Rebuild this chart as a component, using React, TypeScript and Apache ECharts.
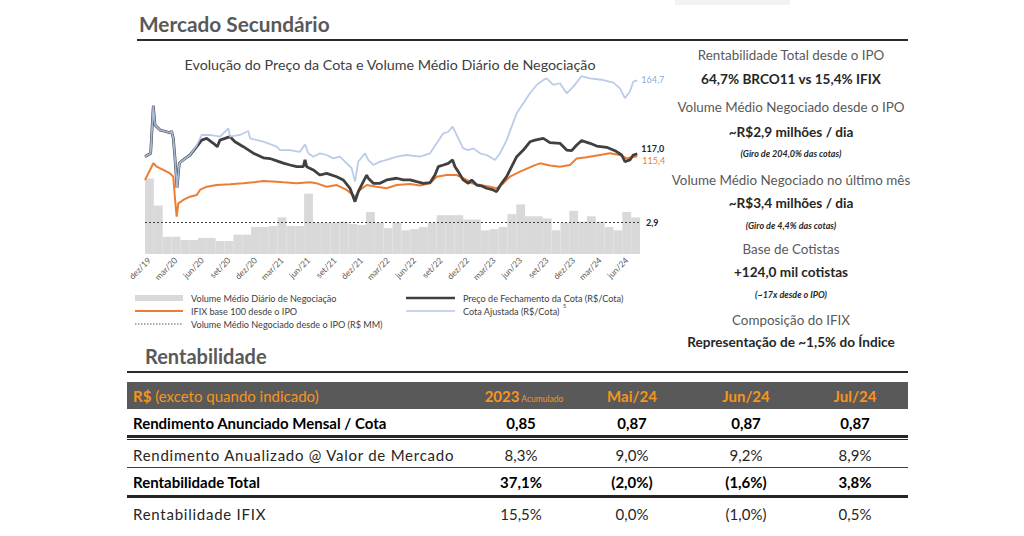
import React, { useEffect, useRef } from 'react';
import * as echarts from 'echarts';

const FONT = "Lato, 'Noto Sans', sans-serif";

// ---------- chart data ----------
const monthLabels = [
  'dez/19', 'jan/20', 'fev/20', 'mar/20', 'abr/20', 'mai/20', 'jun/20', 'jul/20', 'ago/20', 'set/20', 'out/20', 'nov/20',
  'dez/20', 'jan/21', 'fev/21', 'mar/21', 'abr/21', 'mai/21', 'jun/21', 'jul/21', 'ago/21', 'set/21', 'out/21', 'nov/21',
  'dez/21', 'jan/22', 'fev/22', 'mar/22', 'abr/22', 'mai/22', 'jun/22', 'jul/22', 'ago/22', 'set/22', 'out/22', 'nov/22',
  'dez/22', 'jan/23', 'fev/23', 'mar/23', 'abr/23', 'mai/23', 'jun/23', 'jul/23', 'ago/23', 'set/23', 'out/23', 'nov/23',
  'dez/23', 'jan/24', 'fev/24', 'mar/24', 'abr/24', 'mai/24', 'jun/24', 'jul/24',
];

// Volume Médio Diário de Negociação (R$ MM), monthly
const volumeMonthly = [
  7.0, 4.5, 1.6, 1.6, 1.3, 1.3, 1.5, 1.5, 1.2, 1.2, 1.8, 1.8,
  2.5, 2.5, 2.6, 3.4, 2.6, 2.6, 5.6, 2.9, 2.9, 2.9, 3.0, 2.8,
  2.7, 3.9, 2.9, 2.4, 2.9, 2.2, 2.3, 2.5, 2.9, 3.6, 3.6, 3.6,
  3.2, 3.2, 2.2, 2.3, 2.5, 3.7, 4.6, 3.5, 3.5, 3.3, 2.2, 2.9,
  4.0, 3.0, 3.5, 3.0, 2.5, 2.2, 3.9, 3.4,
];
const volumeAvgSinceIPO = 2.9;

// [months since dez/19, value]
const priceClose: [number, number][] = [
  [0, 115.2], [0.64, 117.4], [0.94, 148.3], [1.13, 135.8], [1.7, 132.5], [2.45, 131.4], [2.83, 130.6], [3.0, 131.9],
  [3.2, 127.3], [3.39, 114.4], [3.62, 94.9], [3.88, 111.1], [4.33, 113.1], [5.09, 116.3], [5.85, 121.7], [6.41, 126.0],
  [6.98, 127.1], [7.73, 123.9], [8.18, 121.7], [8.48, 126.0], [9.62, 128.2], [10.18, 124.9], [11.12, 121.7], [12.25, 117.5],
  [13.38, 114.5], [14.14, 114.0], [14.9, 112.5], [15.65, 111.0], [16.4, 109.8], [17.16, 108.7], [17.91, 108.7], [18.1, 113.1],
  [18.29, 108.7], [19.04, 106.6], [19.8, 103.3], [20.55, 104.4], [21.69, 102.2], [22.43, 100.1], [23.19, 94.7], [23.76, 86.0],
  [24.13, 92.5], [24.7, 99.0], [25.08, 103.3], [25.26, 101.2], [25.83, 97.9], [26.58, 97.9], [27.34, 100.1], [28.47, 101.2],
  [29.22, 100.1], [29.98, 100.1], [30.73, 99.0], [31.49, 97.9], [32.24, 98.3], [32.8, 103.3], [33.18, 108.7], [33.75, 109.8],
  [34.31, 110.9], [34.8, 113.1], [35.07, 108.7], [35.44, 105.5], [36.0, 100.1], [36.57, 97.9], [36.96, 100.1], [37.52, 96.8],
  [38.09, 96.2], [38.65, 94.7], [39.4, 93.6], [39.78, 92.5], [40.35, 97.9], [40.91, 102.2], [41.48, 108.7], [42.05, 115.2],
  [42.8, 119.5], [43.55, 124.9], [44.12, 126.0], [45.06, 127.1], [45.81, 124.3], [46.95, 123.9], [47.7, 119.5], [48.27, 119.1],
  [48.84, 122.8], [49.4, 125.6], [50.34, 123.9], [51.1, 122.1], [52.23, 121.3], [53.17, 119.1], [53.93, 116.3], [54.3, 112.0],
  [54.86, 113.1], [55.24, 116.3], [55.69, 117.0],
];

const ifixBase100: [number, number][] = [
  [0, 100.0], [0.57, 106.6], [0.94, 110.9], [1.32, 108.7], [2.07, 106.6], [2.83, 104.4], [3.2, 102.2], [3.39, 88.2],
  [3.58, 76.2], [3.77, 84.9], [4.33, 87.1], [5.09, 89.2], [5.85, 90.3], [6.22, 93.6], [6.98, 95.7], [8.11, 96.8],
  [9.62, 97.3], [11.12, 97.9], [12.25, 98.6], [13.38, 99.4], [14.9, 99.0], [15.65, 98.6], [17.16, 97.9], [18.67, 98.6],
  [19.42, 97.9], [20.55, 95.7], [21.69, 96.8], [22.82, 93.6], [23.76, 89.2], [24.32, 93.6], [25.08, 96.8], [26.2, 95.7],
  [27.34, 94.7], [28.47, 96.8], [29.98, 97.5], [31.1, 96.5], [32.24, 97.9], [33.0, 102.2], [34.13, 103.3], [35.26, 103.3],
  [36.39, 100.1], [36.96, 97.9], [37.9, 96.8], [39.03, 95.7], [39.78, 94.7], [40.53, 97.9], [41.29, 102.2], [42.42, 105.5],
  [43.93, 109.2], [44.68, 110.9], [45.81, 109.5], [46.95, 108.7], [48.08, 109.8], [48.84, 114.1], [49.97, 114.8], [51.47, 116.3],
  [52.6, 117.4], [53.73, 116.3], [54.49, 114.1], [55.24, 115.2], [55.69, 115.4],
];

const adjustedPrice: [number, number][] = [
  [0, 115.2], [0.64, 117.4], [0.94, 148.3], [1.13, 135.8], [1.7, 132.5], [2.45, 131.4], [2.83, 130.6], [3.0, 131.9],
  [3.2, 127.3], [3.39, 114.4], [3.62, 94.9], [3.88, 111.1], [4.33, 113.1], [5.09, 116.3], [5.85, 122.5], [6.41, 129.3],
  [7.35, 129.3], [8.48, 128.2], [9.43, 133.6], [9.62, 128.2], [10.75, 129.3], [11.69, 131.9], [11.88, 127.1], [13.38, 125.0],
  [14.9, 121.7], [15.27, 119.5], [16.4, 119.5], [17.53, 118.4], [18.1, 123.2], [18.48, 117.4], [19.04, 115.2], [19.8, 117.4],
  [20.55, 116.3], [21.3, 114.1], [22.06, 115.2], [22.62, 112.0], [23.38, 107.7], [23.76, 99.0], [24.13, 112.0], [24.89, 117.4],
  [25.26, 113.1], [25.83, 109.8], [26.58, 112.0], [27.34, 113.1], [28.47, 115.2], [29.6, 116.3], [31.1, 115.2], [32.24, 117.4],
  [33.0, 123.9], [33.75, 130.4], [34.31, 131.4], [34.8, 134.7], [35.26, 129.3], [36.0, 120.6], [36.57, 119.5], [37.14, 120.6],
  [37.9, 117.4], [38.65, 116.3], [39.59, 113.1], [40.16, 117.4], [40.91, 126.0], [41.48, 134.7], [42.05, 143.4], [42.8, 149.9],
  [43.55, 156.4], [44.31, 161.8], [45.06, 165.0], [45.44, 166.1], [46.19, 161.8], [46.95, 162.9], [47.7, 156.4], [48.46, 160.7],
  [49.4, 167.6], [50.34, 166.1], [51.85, 165.0], [52.98, 163.3], [53.73, 159.6], [54.3, 153.2], [54.86, 157.5], [55.24, 164.0],
  [55.69, 164.7],
];

const legendLeft = ['Volume Médio Diário de Negociação', 'IFIX base 100 desde o IPO', 'Volume Médio Negociado desde o IPO (R$ MM)'];
const legendRight = ['Preço de Fechamento da Cota (R$/Cota)', 'Cota Ajustada (R$/Cota)'];

// ---------- side panel ----------
const sidePanel: { text: string; kind: 'label' | 'value' | 'note' }[] = [
  { text: 'Rentabilidade Total desde o IPO', kind: 'label' },
  { text: '64,7% BRCO11 vs 15,4% IFIX', kind: 'value' },
  { text: 'Volume Médio Negociado desde o IPO', kind: 'label' },
  { text: '~R$2,9 milhões / dia', kind: 'value' },
  { text: '(Giro de 204,0% das cotas)', kind: 'note' },
  { text: 'Volume Médio Negociado no último mês', kind: 'label' },
  { text: '~R$3,4 milhões / dia', kind: 'value' },
  { text: '(Giro de 4,4% das cotas)', kind: 'note' },
  { text: 'Base de Cotistas', kind: 'label' },
  { text: '+124,0 mil cotistas', kind: 'value' },
  { text: '(~17x desde o IPO)', kind: 'note' },
  { text: 'Composição do IFIX', kind: 'label' },
  { text: 'Representação de ~1,5% do Índice', kind: 'value' },
];
const sidePanelY = [56, 80, 108, 133, 153, 181, 204, 225, 250, 273, 294, 321, 343];

// ---------- table ----------
const tableColumns = ['2023', 'Mai/24', 'Jun/24', 'Jul/24'];
const rowLabels = [
  'Rendimento Anunciado Mensal / Cota',
  'Rendimento Anualizado @ Valor de Mercado',
  'Rentabilidade Total',
  'Rentabilidade IFIX',
];
const rendimentoMensal = ['0,85', '0,87', '0,87', '0,87'];
const rendimentoAnualizado = ['8,3%', '9,0%', '9,2%', '8,9%'];
const rentabilidadeTotal = ['37,1%', '(2,0%)', '(1,6%)', '3,8%'];
const rentabilidadeIfix = ['15,5%', '0,0%', '(1,0%)', '0,5%'];
const tableRows = [rendimentoMensal, rendimentoAnualizado, rentabilidadeTotal, rentabilidadeIfix];
const rowBold = [true, false, true, false];

const fmt = (v: number) => v.toFixed(1).replace('.', ',');

const Txt = (p: any) => {
  const tx = p.align === 'center' ? '-50%' : p.align === 'right' ? '-100%' : '0';
  return (
    <div
      style={{
        position: 'absolute',
        left: p.x,
        top: p.y,
        transform: `translate(${tx}, -50%)`,
        fontSize: p.size,
        fontWeight: p.weight || 400,
        fontStyle: p.italic ? 'italic' : 'normal',
        color: p.color,
        whiteSpace: 'nowrap',
        lineHeight: 1,
        letterSpacing: p.ls || 0,
        fontFamily: FONT,
      }}
    >
      {p.children}
    </div>
  );
};

const Rule = (p: any) => (
  <div style={{ position: 'absolute', left: p.x1, top: p.y, width: p.x2 - p.x1, height: p.h, background: p.color }} />
);

function Chart() {
  const ref = useRef<HTMLDivElement>(null);
  useEffect(() => {
    if (!ref.current) return;
    const chart = echarts.init(ref.current, undefined, { renderer: 'svg' });
    const legendText = (x: number, y: number, text: string) => ({
      type: 'text',
      x,
      y,
      style: { text, fill: '#404040', fontSize: 9.1, fontFamily: FONT, align: 'left', verticalAlign: 'middle' },
    });
    const option: any = {
      animation: false,
      textStyle: { fontFamily: FONT },
      grid: { left: 145, right: 384, top: 60, bottom: 282, containLabel: false },
      xAxis: [
        {
          type: 'category',
          data: monthLabels,
          boundaryGap: true,
          axisLine: { show: false },
          axisTick: { show: false },
          splitLine: { show: false },
          axisLabel: { interval: 2, rotate: 45, fontSize: 8.5, color: '#595959', margin: 5, fontFamily: FONT },
        },
        { type: 'value', min: 0, max: 56, show: false, splitLine: { show: false } },
      ],
      yAxis: [
        { type: 'value', min: 52, max: 178, show: false, splitLine: { show: false } },
        { type: 'value', min: 0, max: 18, show: false, splitLine: { show: false } },
      ],
      series: [
        {
          type: 'bar',
          name: 'Volume Médio Diário de Negociação',
          xAxisIndex: 0,
          yAxisIndex: 1,
          data: volumeMonthly,
          barCategoryGap: '0%',
          itemStyle: { color: '#D9D9D9' },
          silent: true,
          markLine: {
            symbol: 'none',
            silent: true,
            data: [{ yAxis: volumeAvgSinceIPO }],
            lineStyle: { type: [2, 2], color: '#404040', width: 1 },
            label: {
              position: 'end',
              formatter: fmt(volumeAvgSinceIPO),
              fontSize: 9,
              fontWeight: 'bold',
              color: '#262626',
              distance: 6,
              fontFamily: FONT,
            },
          },
        },
        {
          type: 'line',
          name: 'IFIX base 100 desde o IPO',
          xAxisIndex: 1,
          yAxisIndex: 0,
          data: ifixBase100,
          showSymbol: false,
          silent: true,
          lineStyle: { color: '#ED7D31', width: 2 },
          endLabel: {
            show: true,
            formatter: (p: any) => fmt(p.value[1]),
            color: '#ED7D31',
            fontSize: 9,
            offset: [-3, 4],
            fontFamily: FONT,
          },
        },
        {
          type: 'line',
          name: 'Preço de Fechamento da Cota (R$/Cota)',
          xAxisIndex: 1,
          yAxisIndex: 0,
          data: priceClose,
          showSymbol: false,
          silent: true,
          lineStyle: { color: '#404040', width: 2.8 },
          endLabel: {
            show: true,
            formatter: (p: any) => fmt(p.value[1]),
            color: '#262626',
            fontWeight: 'bold',
            fontSize: 9,
            offset: [-4, -5],
            fontFamily: FONT,
          },
        },
        {
          type: 'line',
          name: 'Cota Ajustada (R$/Cota)',
          xAxisIndex: 1,
          yAxisIndex: 0,
          data: adjustedPrice,
          showSymbol: false,
          silent: true,
          lineStyle: { color: '#B4C7E7', width: 1.8, opacity: 0.9 },
          endLabel: {
            show: true,
            formatter: (p: any) => fmt(p.value[1]),
            color: '#8FAADC',
            fontSize: 9,
            offset: [-4, -1],
            fontFamily: FONT,
          },
        },
      ],
      graphic: [
        { type: 'rect', shape: { x: 675, y: 0, width: 115, height: 5 }, style: { fill: '#F2F2F2' } },
        {
          type: 'text',
          x: 390,
          y: 64,
          style: {
            text: 'Evolução do Preço da Cota e Volume Médio Diário de Negociação',
            fill: '#404040',
            fontSize: 14.3,
            fontFamily: FONT,
            align: 'center',
            verticalAlign: 'middle',
          },
        },
        { type: 'rect', shape: { x: 135, y: 295, width: 48, height: 6 }, style: { fill: '#D9D9D9' } },
        legendText(191, 298, legendLeft[0]),
        { type: 'line', shape: { x1: 135, y1: 311, x2: 183, y2: 311 }, style: { stroke: '#ED7D31', lineWidth: 2 } },
        legendText(191, 311, legendLeft[1]),
        { type: 'line', shape: { x1: 135, y1: 324, x2: 183, y2: 324 }, style: { stroke: '#595959', lineWidth: 1, lineDash: [1.5, 1.5] } },
        legendText(191, 324, legendLeft[2]),
        { type: 'line', shape: { x1: 406, y1: 298, x2: 455, y2: 298 }, style: { stroke: '#404040', lineWidth: 2.5 } },
        legendText(463, 298, legendRight[0]),
        { type: 'line', shape: { x1: 406, y1: 311, x2: 455, y2: 311 }, style: { stroke: '#B4C7E7', lineWidth: 1.5 } },
        legendText(463, 311, legendRight[1]),
        {
          type: 'text',
          x: 563,
          y: 306,
          style: { text: '5', fill: '#404040', fontSize: 5.5, fontFamily: FONT, align: 'left', verticalAlign: 'middle' },
        },
      ],
    };
    chart.setOption(option);
    return () => chart.dispose();
  }, []);
  return <div ref={ref} style={{ position: 'absolute', left: 0, top: 0, width: 1024, height: 536 }} />;
}

const colX = [521, 632, 746, 855];
const rowY = [423, 455, 482, 514];

export default function App() {
  return (
    <div
      style={{
        position: 'absolute',
        left: 0,
        top: 0,
        width: 1024,
        height: 536,
        background: '#ffffff',
        overflow: 'hidden',
        fontFamily: FONT,
      }}
    >
      <Chart />
      {/* headings */}
      <Txt x={139} y={24} size={20.8} weight={700} color="#595959">Mercado Secundário</Txt>
      <Rule x1={137} x2={908} y={39} h={2} color="#2b2b2b" />
      <Txt x={145} y={356} size={20} weight={700} color="#595959">Rentabilidade</Txt>
      <Rule x1={127} x2={908} y={371} h={2} color="#2b2b2b" />

      {/* side panel */}
      {sidePanel.map((s, i) => (
        <Txt
          key={i}
          x={791}
          y={sidePanelY[i]}
          align="center"
          size={s.kind === 'note' ? 9 : s.kind === 'label' ? 13.4 : 13.6}
          weight={s.kind === 'label' ? 400 : 700}
          italic={s.kind === 'note'}
          color={s.kind === 'label' ? '#595959' : '#262626'}
        >
          {s.text}
        </Txt>
      ))}

      {/* table header */}
      <div style={{ position: 'absolute', left: 127, top: 382, width: 781, height: 27, background: '#595959' }} />
      <Txt x={133} y={396} size={15} color="#F7941D">
        <span style={{ fontWeight: 700 }}>R$</span> (exceto quando indicado)
      </Txt>
      <Txt x={524} y={396} size={15} align="center" color="#F7941D">
        <span style={{ fontWeight: 700 }}>{tableColumns[0]}</span>
        <span style={{ fontSize: 8.5 }}> Acumulado</span>
      </Txt>
      {tableColumns.slice(1).map((c, i) => (
        <Txt key={c} x={colX[i + 1]} y={396} size={15} weight={700} align="center" color="#F7941D">
          {c}
        </Txt>
      ))}

      {/* table rows */}
      {rowLabels.map((label, r) => (
        <React.Fragment key={label}>
          <Txt
            x={133}
            y={rowY[r]}
            size={15}
            ls={rowBold[r] ? 0 : 0.75}
            weight={rowBold[r] ? 700 : 400}
            color={rowBold[r] ? '#000000' : '#262626'}
          >
            {label}
          </Txt>
          {tableRows[r].map((v, c) => (
            <Txt
              key={c}
              x={colX[c]}
              y={rowY[r]}
              size={15}
              weight={rowBold[r] ? 700 : 400}
              align="center"
              color={rowBold[r] ? '#000000' : '#262626'}
            >
              {v}
            </Txt>
          ))}
        </React.Fragment>
      ))}
      <Rule x1={127} x2={908} y={435} h={2.5} color="#262626" />
      <Rule x1={127} x2={908} y={439} h={1} color="#262626" />
      <Rule x1={127} x2={908} y={467} h={1} color="#404040" />
      <Rule x1={127} x2={908} y={495} h={3} color="#262626" />
    </div>
  );
}
